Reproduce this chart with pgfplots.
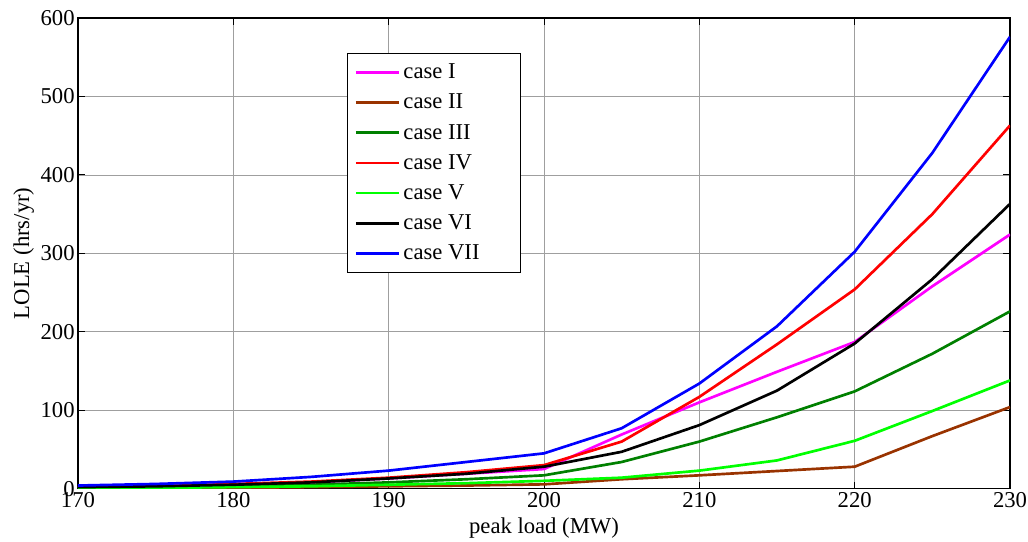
\documentclass[border=0pt]{standalone}
\usepackage{fontspec}
\setmainfont{Liberation Serif}
\usepackage{pgfplots}
\pgfplotsset{compat=1.18}

\definecolor{cI}{rgb}{1,0,1}
\definecolor{cII}{rgb}{0.6,0.2,0}
\definecolor{cIII}{rgb}{0,0.5,0}
\definecolor{cIV}{rgb}{1,0,0}
\definecolor{cV}{rgb}{0,1,0}
\definecolor{cVI}{rgb}{0,0,0}
\definecolor{cVII}{rgb}{0,0,1}

\newcommand{\pad}{\hspace*{24pt}}

\begin{document}
\begin{tikzpicture}
\begin{axis}[
  name=ax,
  scale only axis,
  width=699pt, height=353pt,
  xmin=170, xmax=230, ymin=0, ymax=600,
  xtick={170,180,...,230},
  ytick={0,100,...,600},
  grid=major,
  grid style={gray!75, line width=0.5pt},
  axis line style={line width=0.8pt},
  tick align=inside, tick pos=both,
  major tick length=5pt,
  tick style={black, line width=0.6pt},
  /pgf/number format/assume math mode=true,
  /pgf/number format/1000 sep={},
  tick label style={font=\fontsize{17}{19}\selectfont},
  label style={font=\fontsize{17}{19}\selectfont},
  xticklabel style={yshift=1pt},
  yticklabel style={xshift=1pt},
  xlabel={peak load (MW)},
  ylabel={LOLE (hrs/yr)},
  xlabel style={yshift=-1pt},
  ylabel style={yshift=-2pt},
  legend cell align=left,
  legend style={at={(0.289,0.926)}, anchor=north west,
    font=\fontsize{17}{20}\selectfont, draw=black, line width=0.7pt,
    row sep=6pt, inner xsep=5pt, inner ysep=6pt},
  legend image code/.code={\draw[#1, line width=2pt] (0cm,0cm) -- (1.15cm,0cm);},
  every axis plot/.append style={line width=2pt, no marks},
]
\addplot[cI] coordinates {(170,2) (175,3) (180,5) (185,8) (190,13) (195,19) (200,25) (205,69) (210,110) (215,149) (220,187) (225,258) (230,324)};
\addlegendentry{case I\pad}
\addplot[cII] coordinates {(170,0.3) (175,0.5) (180,1) (185,2) (190,3) (195,4) (200,5.5) (205,12) (210,17) (215,22.5) (220,28) (225,67) (230,104)};
\addlegendentry{case II\pad}
\addplot[cIII] coordinates {(170,1) (175,2) (180,3) (185,5) (190,8) (195,12) (200,17) (205,34) (210,60) (215,91) (220,124) (225,172) (230,226)};
\addlegendentry{case III\pad}
\addplot[cIV] coordinates {(170,2) (175,3) (180,6) (185,9) (190,14) (195,21) (200,30) (205,60) (210,117) (215,184) (220,254) (225,350) (230,463)};
\addlegendentry{case IV\pad}
\addplot[cV] coordinates {(170,0.5) (175,1) (180,2) (185,3) (190,5) (195,7) (200,10) (205,14) (210,23) (215,36) (220,61) (225,99) (230,138)};
\addlegendentry{case V\pad}
\addplot[cVI] coordinates {(170,2) (175,3) (180,5) (185,8) (190,13) (195,19) (200,28) (205,47) (210,81) (215,125) (220,185) (225,267) (230,363)};
\addlegendentry{case VI\pad}
\addplot[cVII] coordinates {(170,4) (175,6) (180,9) (185,15) (190,23) (195,34) (200,45) (205,77) (210,134) (215,207) (220,302) (225,428) (230,576)};
\addlegendentry{case VII\pad}
\end{axis}
\pgfresetboundingbox
\path ([shift={(-58.5pt,-39.75pt)}]ax.south west) rectangle ([shift={(13.5pt,13.5pt)}]ax.north east);
\end{tikzpicture}
\end{document}
